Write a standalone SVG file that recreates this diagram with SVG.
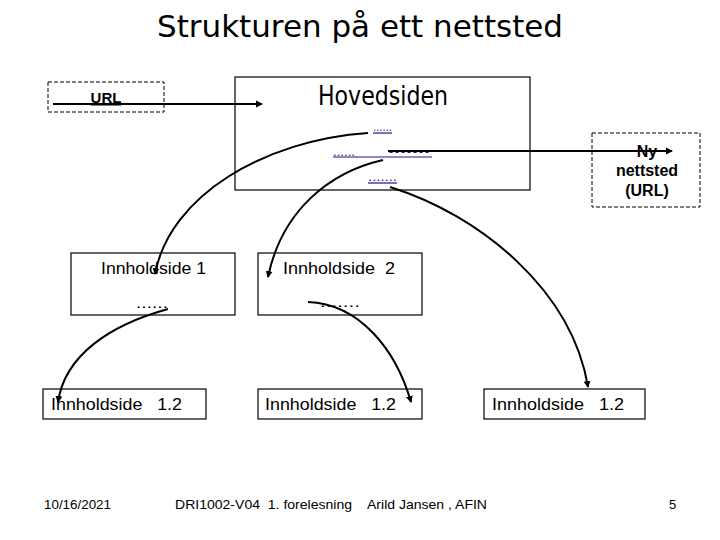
<svg xmlns="http://www.w3.org/2000/svg" width="720" height="540" viewBox="0 0 720 540">
<style>
.box{fill:none;stroke:#000;stroke-width:1.2}
.dash{fill:none;stroke:#000;stroke-width:1;stroke-dasharray:4,2}
.t{font-family:"Liberation Sans",Arial,sans-serif;fill:#000}
.c{fill:none;stroke:#000;stroke-width:2}
.lnk{font-family:"Liberation Sans",Arial,sans-serif;font-size:12px;fill:#1a1a8c}
.ul{stroke:#1a1a8c;stroke-width:1.2}
</style>
<defs>
<marker id="ah" markerWidth="8" markerHeight="8" refX="6" refY="4" orient="auto" markerUnits="userSpaceOnUse">
<path d="M0,0.5 L7,4 L0,7.5 Z" fill="#000"/>
</marker>
</defs>
<rect width="720" height="540" fill="#fff"/>
<text class="t" x="360" y="37" style="font-family:'DejaVu Sans',sans-serif" font-size="30" text-anchor="middle" textLength="406" lengthAdjust="spacingAndGlyphs">Strukturen på ett nettsted</text>

<g id="url">
<rect class="dash" x="48" y="82" width="116" height="30"/>
<text class="t" x="106" y="103" font-size="15" font-weight="bold" text-anchor="middle" text-decoration="underline">URL</text>
</g>

<g id="hovedsiden">
<rect class="box" x="235" y="77" width="295" height="113" stroke-width="2"/>
<text class="t" x="383" y="105" font-size="26" text-anchor="middle" style="font-family:'DejaVu Sans',sans-serif" textLength="130" lengthAdjust="spacingAndGlyphs">Hovedsiden</text>
<text class="lnk" x="373" y="131" textLength="19" lengthAdjust="spacingAndGlyphs">......</text>
<line class="ul" x1="373" y1="133" x2="392" y2="133"/>
<text class="lnk" x="333" y="156" textLength="22" lengthAdjust="spacingAndGlyphs">......</text>
<text class="lnk" x="388" y="153" font-weight="bold" fill="#000" textLength="42" lengthAdjust="spacingAndGlyphs">.......</text>
<line class="ul" x1="333" y1="157" x2="432" y2="157"/>
<text class="lnk" x="368" y="181" textLength="29" lengthAdjust="spacingAndGlyphs">.......</text>
<line class="ul" x1="368" y1="183" x2="397" y2="183"/>
</g>

<g id="ny">
<rect class="dash" x="592" y="133" width="108" height="74"/>
<text class="t" x="647" y="157" font-size="16" font-weight="bold" text-anchor="middle">Ny</text>
<text class="t" x="647" y="176" font-size="16" font-weight="bold" text-anchor="middle">nettsted</text>
<text class="t" x="647" y="196" font-size="16" font-weight="bold" text-anchor="middle">(URL)</text>
</g>

<g id="innhold1">
<rect class="box" x="71" y="253" width="164" height="62"/>
<text class="t" x="101" y="274" font-size="17" textLength="105" lengthAdjust="spacingAndGlyphs">Innholdside 1</text>
<text class="t" x="136" y="308" font-size="14" textLength="32" lengthAdjust="spacingAndGlyphs">......</text>
</g>

<g id="innhold2">
<rect class="box" x="258" y="253" width="164" height="62"/>
<text class="t" x="283" y="274" font-size="17" xml:space="preserve" textLength="112" lengthAdjust="spacingAndGlyphs">Innholdside  2</text>
<text class="t" x="320" y="307" font-size="14" textLength="40" lengthAdjust="spacingAndGlyphs">.......</text>
</g>

<g id="sub1">
<rect class="box" x="43" y="389" width="163" height="30"/>
<text class="t" x="51" y="410" font-size="17" xml:space="preserve" textLength="131" lengthAdjust="spacingAndGlyphs">Innholdside   1.2</text>
</g>
<g id="sub2">
<rect class="box" x="258" y="389" width="164" height="30"/>
<text class="t" x="265" y="410" font-size="17" xml:space="preserve" textLength="131" lengthAdjust="spacingAndGlyphs">Innholdside   1.2</text>
</g>
<g id="sub3">
<rect class="box" x="484" y="389" width="161" height="30"/>
<text class="t" x="492" y="410" font-size="17" xml:space="preserve" textLength="132" lengthAdjust="spacingAndGlyphs">Innholdside   1.2</text>
</g>

<g id="connectors">
<line class="c" x1="53" y1="104" x2="262" y2="104" stroke-width="2.5" marker-end="url(#ah)"/>
<line class="c" x1="388" y1="151" x2="672" y2="151" stroke-width="3.5" marker-end="url(#ah)"/>
<path class="c" d="M368,133 C265,140 170,195 155,274" marker-end="url(#ah)"/>
<path class="c" d="M383,160 C330,172 282,210 268,277" marker-end="url(#ah)"/>
<path class="c" d="M390,187 C480,215 572,290 588,387" marker-end="url(#ah)"/>
<path class="c" d="M168,309 C110,325 65,355 58,402" marker-end="url(#ah)"/>
<path class="c" d="M308,302 C360,304 396,350 411,402" marker-end="url(#ah)"/>
</g>

<g id="footer">
<text class="t" x="44" y="509" font-size="13" fill="#222" textLength="67" lengthAdjust="spacingAndGlyphs">10/16/2021</text>
<text class="t" x="175" y="509" font-size="13" fill="#222" xml:space="preserve" textLength="177" lengthAdjust="spacingAndGlyphs">DRI1002-V04  1. forelesning</text>
<text class="t" x="367" y="509" font-size="13" fill="#222" textLength="120" lengthAdjust="spacingAndGlyphs">Arild Jansen , AFIN</text>
<text class="t" x="669" y="509" font-size="13" fill="#222">5</text>
</g>
</svg>
